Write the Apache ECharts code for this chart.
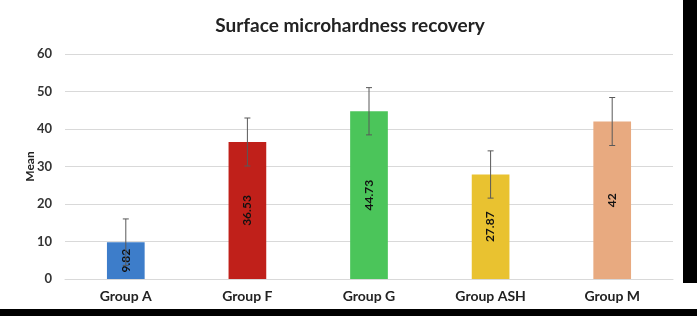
<!DOCTYPE html>
<html lang="en">
  <head>
    <meta charset="UTF-8" />
    <title>Surface microhardness recovery</title>
    <script src="https://cdn.jsdelivr.net/npm/echarts@6/dist/echarts.min.js"></script>
  </head>
  <body style="margin: 0">
    <div id="main" style="width: 697px; height: 316px"></div>
    <script type="text/javascript">
      const groups = ["Group A", "Group F", "Group G", "Group ASH", "Group M"];
      const means = [9.82, 36.53, 44.73, 27.87, 42];
      const errors = [6.2, 6.4, 6.3, 6.3, 6.4];
      const barColors = ["#3d7dca", "#c0201a", "#4bc55a", "#e9c230", "#e8aa80"];
      const yTicks = [0, 10, 20, 30, 40, 50, 60];

      let myChart = echarts.init(document.getElementById("main"));

      let errorData = means.map((m, i) => [i, m - errors[i], m + errors[i]]);

      let options = {
        backgroundColor: "#fff",
        textStyle: { fontFamily: "Lato" },
        title: {
          text: "Surface microhardness recovery",
          left: 345,
          textAlign: "center",
          top: 11,
          textStyle: { fontSize: 19, fontWeight: "bold", color: "#222", fontFamily: "Lato" },
        },
        grid: { left: 65, right: 24, top: 54, bottom: 37 },
        xAxis: {
          type: "category",
          data: groups,
          axisTick: { show: false },
          axisLine: { lineStyle: { color: "#d9d9d9", width: 1 } },
          axisLabel: { fontSize: 14, fontWeight: "bold", color: "#222", margin: 10 },
        },
        yAxis: {
          type: "value",
          min: yTicks[0],
          max: yTicks[yTicks.length - 1],
          interval: 10,
          name: "Mean",
          nameLocation: "middle",
          nameGap: 29,
          nameMoveOverlap: false,
          nameTextStyle: { fontSize: 12, fontWeight: "bold", color: "#222" },
          axisLabel: { fontSize: 13, fontWeight: "bold", color: "#333", margin: 13 },
          splitLine: { lineStyle: { color: "#d9d9d9", width: 1 } },
        },
        series: [
          {
            type: "bar",
            barWidth: "31%",
            data: means.map((v, i) => ({ value: v, itemStyle: { color: barColors[i] } })),
            label: {
              show: true,
              position: "inside",
              rotate: 90,
              fontSize: 12,
              fontWeight: "bold",
              color: "#111",
            },
          },
          {
            type: "custom",
            data: errorData,
            z: 10,
            renderItem: function (params, api) {
              let x = api.value(0);
              let lo = api.coord([x, api.value(1)]);
              let hi = api.coord([x, api.value(2)]);
              let cap = 3;
              let style = { stroke: "#595959", lineWidth: 1 };
              return {
                type: "group",
                children: [
                  { type: "line", shape: { x1: hi[0], y1: hi[1], x2: lo[0], y2: lo[1] }, style: style },
                  { type: "line", shape: { x1: hi[0] - cap, y1: hi[1], x2: hi[0] + cap, y2: hi[1] }, style: style },
                  { type: "line", shape: { x1: lo[0] - cap, y1: lo[1], x2: lo[0] + cap, y2: lo[1] }, style: style },
                ],
              };
            },
          },
        ],
        graphic: [
          { type: "rect", shape: { x: 683, y: 0, width: 14, height: 283 }, style: { fill: "#000" } },
          { type: "rect", shape: { x: 0, y: 309, width: 697, height: 7 }, style: { fill: "#000" } },
        ],
      };
      myChart.setOption(options);
    </script>
  </body>
</html>
